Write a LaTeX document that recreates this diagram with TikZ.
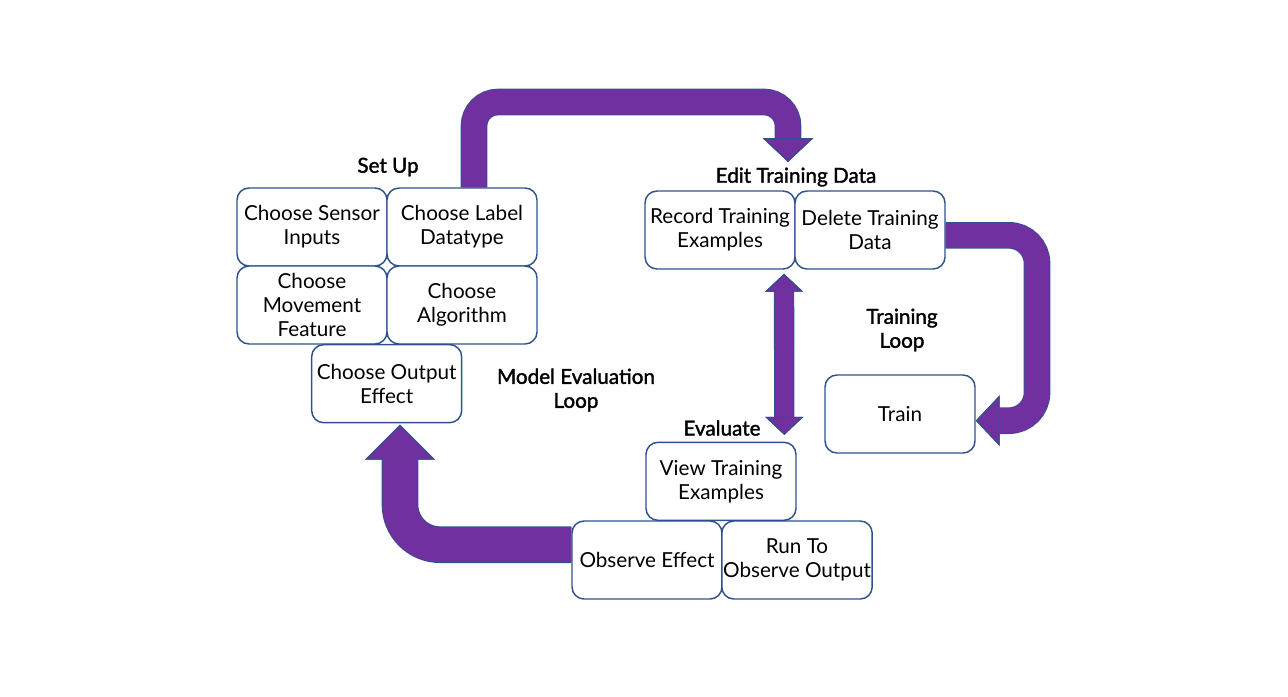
\documentclass[tikz,border=0pt]{standalone}
\usepackage{fontspec}
\setmainfont{Lato}
\newfontfamily\headfont{Lato}[FakeBold=1.6]
\usetikzlibrary{positioning,arrows.meta,calc}
\definecolor{loopviolet}{HTML}{7030A0}
\definecolor{boxblue}{HTML}{2F528F}

\begin{document}
\begin{tikzpicture}[x=0.75pt, y=-0.75pt, node distance=112.5pt,
    box/.style={draw=boxblue, line width=1.1pt, rectangle, rounded corners=9pt, fill=white,
        minimum width=112.5pt, minimum height=58.5pt, inner sep=1pt, align=center,
        font=\fontsize{15.5}{18}\selectfont},
    heading/.style={align=center, font=\fontsize{15.5}{18}\headfont},
    loopflow/.style={draw=loopviolet, line width=18.75pt, rounded corners=#1,
        preaction={draw=boxblue, line width=20pt},
        -{Triangle[width=38pt, length=18pt, color=boxblue, fill=loopviolet, line width=0.8pt]}},
    backflow/.style={draw=loopviolet, line width=26.25pt, rounded corners=30pt,
        preaction={draw=boxblue, line width=27.5pt},
        -{Triangle[width=52.5pt, length=26.25pt, color=boxblue, fill=loopviolet, line width=0.8pt]}},
    evalflow/.style={draw=loopviolet, line width=14pt,
        preaction={draw=boxblue, line width=15.25pt},
        {Triangle[width=28.5pt, length=13.5pt, color=boxblue, fill=loopviolet, line width=0.8pt]}-{Triangle[width=28.5pt, length=13.5pt, color=boxblue, fill=loopviolet, line width=0.8pt]}}]
    \useasboundingbox (0,0) rectangle (1288,696);

    % Set Up
    \node [box] (sensor) at (312,227) {Choose Sensor\\Inputs};
    \node [box, right of=sensor] (datatype) {Choose Label\\Datatype};
    \node [box, below of=sensor, node distance=58.5pt] (movement) {Choose\\Movement\\Feature};
    \node [box, right of=movement] (algorithm) {Choose\\Algorithm};
    \node [box, below of=movement, node distance=59pt, xshift=56pt] (output) {Choose Output\\Effect};

    % Edit Training Data
    \node [box] (record) at (720,230) {Record Training\\Examples};
    \node [box, right of=record] (delete) {Delete Training\\Data};
    \node [box] (train) at (900,414) {Train};

    % Evaluate
    \node [box] (observe) at (647,560) {Observe Effect};
    \node [box, right of=observe] (runout) {Run To\\Observe Output};
    \node [box, above of=observe, node distance=59pt, xshift=55.5pt] (view) {View Training\\Examples};

    % Headings
    \node [heading] (setup) at (388,167) {Set Up};
    \node [heading] (edit) at (796,177) {Edit Training Data};
    \node [heading] (trainloop) at (902,330) {Training\\Loop};
    \node [heading] (evalloop) at (576,390) {Model Evaluation\\Loop};
    \node [heading] (evaluate) at (722,428) {Evaluate};

    % Connections
    \coordinate (topbend) at (788,102);
    \coordinate (edittip) at (788,162);
    \coordinate (rightbend) at (1037,330);
    \draw [loopflow=18pt] ([xshift=9pt]datatype.north) |- (topbend) -- (edittip);
    \draw [loopflow=21pt] ([yshift=-4pt]delete.east) -| (rightbend) |- ([yshift=-5pt]train.east);
    \draw [evalflow, shorten <=3pt, shorten >=5pt] ([xshift=48pt]record.south) -- ([xshift=47.5pt]view.north);
    \draw [backflow, shorten >=1pt] ([yshift=11.5pt]observe.west) -| ([xshift=10pt]output.south);
\end{tikzpicture}
\end{document}
